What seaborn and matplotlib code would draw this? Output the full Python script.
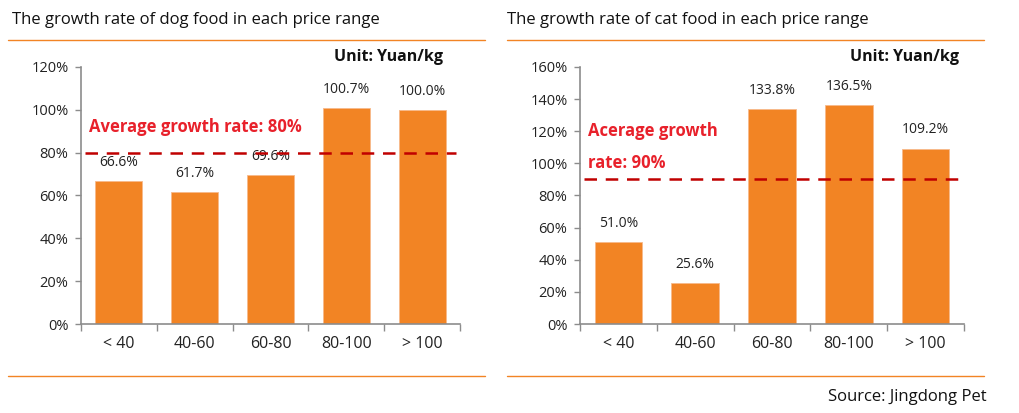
import matplotlib
matplotlib.use("Agg")
import matplotlib.pyplot as plt
import seaborn as sns
import pandas as pd
from matplotlib.ticker import FuncFormatter, FixedLocator
from matplotlib.lines import Line2D

# data
price_ranges = ["< 40", "40-60", "60-80", "80-100", "> 100"]
dog_growth = [66.6, 61.7, 69.6, 100.7, 100.0]
cat_growth = [51.0, 25.6, 133.8, 136.5, 109.2]
dog_avg = 80
cat_avg = 90
dog_title = "The growth rate of dog food in each price range"
cat_title = "The growth rate of cat food in each price range"
dog_avg_text = "Average growth rate: 80%"
cat_avg_text = "Acerage growth\nrate: 90%"
unit_text = "Unit: Yuan/kg"
source_text = "Source: Jingdong Pet"

sns.set_style("white")
plt.rcParams['font.family'] = ['Open Sans', 'DejaVu Sans']

W, H = 1020, 413
fig = plt.figure(figsize=(W / 100, H / 100), dpi=100)

BAR = "#F28424"
ORANGE_LINE = "#F28424"
RED_TXT = "#E8212B"
RED_LINE = "#C00000"
GREY = "#8C8C8C"


def px_axes(x0, y0, x1, y1):
    # pixel box (top-left origin) to figure fraction
    return fig.add_axes([x0 / W, 1 - y1 / H, (x1 - x0) / W, (y1 - y0) / H])


def draw_panel(ax, values, ymax, avg, avg_text, text_y, unit_x):
    df = pd.DataFrame({"range": price_ranges, "growth": values})
    sns.barplot(data=df, x="range", y="growth", color=BAR, width=0.62,
                edgecolor="#F7B98A", linewidth=0.6, saturation=1, ax=ax)
    ax.set_xlim(-0.5, len(price_ranges) - 0.5)
    ax.set_ylim(0, ymax)
    ax.set_yticks(range(0, ymax + 1, 20))
    ax.yaxis.set_major_formatter(FuncFormatter(lambda v, p: f"{v:.0f}%"))
    ax.set_xlabel("")
    ax.set_ylabel("")
    for s in ["top", "right"]:
        ax.spines[s].set_visible(False)
    for s in ["left", "bottom"]:
        ax.spines[s].set_color(GREY)
        ax.spines[s].set_linewidth(1.2)
    ax.tick_params(axis="y", which="major", direction="out", length=4,
                   width=1, color=GREY, labelsize=10.5, labelcolor="#222222", pad=5,
                   left=True)
    ax.tick_params(axis="x", which="major", length=0, labelsize=11.5,
                   labelcolor="#222222", pad=9)
    ax.xaxis.set_minor_locator(FixedLocator([i - 0.5 for i in range(len(price_ranges) + 1)]))
    ax.tick_params(axis="x", which="minor", direction="out", length=5,
                   width=1, color=GREY, bottom=True)
    for i, v in enumerate(values):
        ax.annotate(f"{v:.1f}%", (i, v), xytext=(0, 8), textcoords="offset points",
                    ha="center", va="bottom", fontsize=10, color="#222222")
    ax.plot([-0.45, 4.45], [avg, avg], color=RED_LINE, lw=1.8,
            linestyle=(0, (5, 3.5)), zorder=5)
    ax.text(0.02, text_y, avg_text, transform=ax.transAxes, color=RED_TXT,
            fontsize=12, fontweight="bold", va="top", ha="left", linespacing=1.95)
    ax.text(unit_x, 1.04, unit_text, transform=ax.transAxes, color="#111111",
            fontsize=11.5, fontweight="bold", ha="right", va="center")


ax1 = px_axes(81, 67, 460, 324)
draw_panel(ax1, dog_growth, 120, dog_avg, dog_avg_text, 0.80, 0.955)
ax2 = px_axes(580, 67, 964, 324)
draw_panel(ax2, cat_growth, 160, cat_avg, cat_avg_text, 0.785, 0.987)

# panel titles and orange rules
fig.text(12 / W, 1 - 20 / H, dog_title, fontsize=12, ha="left", va="center", color="#111111")
fig.text(507 / W, 1 - 20 / H, cat_title, fontsize=12, ha="left", va="center", color="#111111")
for x0, x1 in [(8, 485), (507, 984)]:
    for y in [40, 376]:
        fig.add_artist(Line2D([x0 / W, x1 / W], [1 - y / H, 1 - y / H],
                              color=ORANGE_LINE, lw=1.0))
fig.text(987 / W, 1 - 397 / H, source_text, fontsize=12, ha="right", va="center",
         color="#111111")

fig.savefig("out.png", dpi=100)
